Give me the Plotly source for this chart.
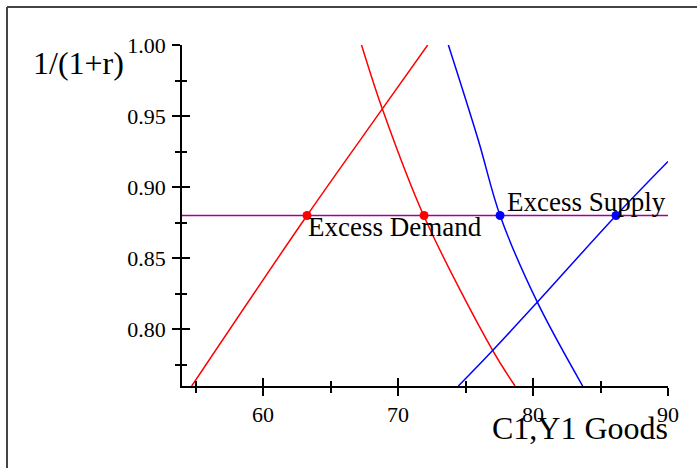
import plotly.graph_objects as go

# Data
red_demand_x = [67.30, 68.84, 71.90, 77.01, 78.67]
red_demand_y = [1.000, 0.955, 0.880, 0.785, 0.760]
red_supply_x = [54.72, 63.26, 68.84, 72.20]
red_supply_y = [0.760, 0.880, 0.955, 1.000]
blue_demand_x = [73.73, 75.95, 77.56, 80.32, 83.68]
blue_demand_y = [1.000, 0.933, 0.880, 0.819, 0.760]
blue_supply_x = [74.47, 77.01, 80.32, 86.15, 90.00]
blue_supply_y = [0.760, 0.785, 0.819, 0.880, 0.918]
rate_x = [54.0, 90.0]
rate_y = [0.88, 0.88]
red_pts_x = [63.26, 71.93]
blue_pts_x = [77.56, 86.15]
pts_y = 0.88

FONT = "Liberation Serif, Times New Roman, serif"
RED = "#ff0000"
BLUE = "#0000ff"
PURPLE = "#a000a0"

fig = go.Figure()
fig.add_trace(go.Scatter(x=rate_x, y=rate_y, mode="lines", line=dict(color=PURPLE, width=1.5), hoverinfo="skip"))
fig.add_trace(go.Scatter(x=red_supply_x, y=red_supply_y, mode="lines", line=dict(color=RED, width=1.5, shape="spline")))
fig.add_trace(go.Scatter(x=red_demand_x, y=red_demand_y, mode="lines", line=dict(color=RED, width=1.5, shape="spline")))
fig.add_trace(go.Scatter(x=blue_demand_x, y=blue_demand_y, mode="lines", line=dict(color=BLUE, width=1.5, shape="spline")))
fig.add_trace(go.Scatter(x=blue_supply_x, y=blue_supply_y, mode="lines", line=dict(color=BLUE, width=1.5, shape="spline")))
fig.add_trace(go.Scatter(x=red_pts_x, y=[pts_y] * len(red_pts_x), mode="markers", marker=dict(color=RED, size=9), cliponaxis=False))
fig.add_trace(go.Scatter(x=blue_pts_x, y=[pts_y] * len(blue_pts_x), mode="markers", marker=dict(color=BLUE, size=9), cliponaxis=False))
# invisible trace for overlay axes (inside ticks)
fig.add_trace(go.Scatter(x=[], y=[], xaxis="x2", yaxis="y2", showlegend=False))

axis_common = dict(showgrid=False, zeroline=False, tickcolor="black", tickwidth=1.5)
fig.update_layout(
    width=697, height=468,
    margin=dict(l=182, r=29, t=45, b=82),
    paper_bgcolor="white", plot_bgcolor="white",
    showlegend=False,
    font=dict(family=FONT, size=22, color="black"),
    xaxis=dict(range=[54, 90], dtick=10, tick0=0, ticks="outside", ticklen=8,
               showline=True, linecolor="black", linewidth=1.5,
               minor=dict(dtick=5, tick0=0, ticks="outside", ticklen=5, tickcolor="black", tickwidth=1.5),
               tickfont=dict(family=FONT, size=22), **axis_common),
    yaxis=dict(range=[0.76, 1.0], dtick=0.05, tick0=0, ticks="outside", ticklen=8,
               tickformat=".2f",
               showline=True, linecolor="black", linewidth=1.5,
               minor=dict(dtick=0.025, tick0=0, ticks="outside", ticklen=5, tickcolor="black", tickwidth=1.5),
               tickfont=dict(family=FONT, size=22), ticklabelstandoff=2, **axis_common),
    xaxis2=dict(range=[54, 90], overlaying="x", anchor="y", side="bottom", dtick=10, tick0=0,
                ticks="inside", ticklen=8, showticklabels=False, showline=False,
                minor=dict(dtick=5, tick0=0, ticks="inside", ticklen=5, tickcolor="black", tickwidth=1.5),
                **axis_common),
    yaxis2=dict(range=[0.76, 1.0], overlaying="y", anchor="x", side="left", dtick=0.05, tick0=0,
                ticks="inside", ticklen=8, showticklabels=False, showline=False,
                minor=dict(dtick=0.025, tick0=0, ticks="inside", ticklen=5, tickcolor="black", tickwidth=1.5),
                **axis_common),
    annotations=[
        dict(text="Excess Demand", x=63.2, y=0.8718, xref="x", yref="y", xanchor="left", yanchor="middle",
             showarrow=False, font=dict(family=FONT, size=27)),
        dict(text="Excess Supply", x=77.9, y=0.8892, xref="x", yref="y", xanchor="left", yanchor="middle",
             showarrow=False, font=dict(family=FONT, size=27)),
        dict(text="1/(1+r)", x=(31 - 182) / 486, y=(386 - 63) / 341, xref="paper", yref="paper",
             xanchor="left", yanchor="middle", showarrow=False, font=dict(family=FONT, size=32)),
        dict(text="C1,Y1 Goods", x=(670 - 182) / 486, y=(386 - 428) / 341, xref="paper", yref="paper",
             xanchor="right", yanchor="middle", showarrow=False, font=dict(family=FONT, size=32)),
    ],
    shapes=[
        dict(type="line", xref="paper", yref="paper", x0=(7 - 182) / 486, x1=(700 - 182) / 486,
             y0=(386 - 7) / 341, y1=(386 - 7) / 341, line=dict(color="#444444", width=2)),
        dict(type="line", xref="paper", yref="paper", x0=(7 - 182) / 486, x1=(7 - 182) / 486,
             y0=(386 - 7) / 341, y1=(386 - 472) / 341, line=dict(color="#444444", width=2)),
    ],
)

fig.write_html("out.html")
